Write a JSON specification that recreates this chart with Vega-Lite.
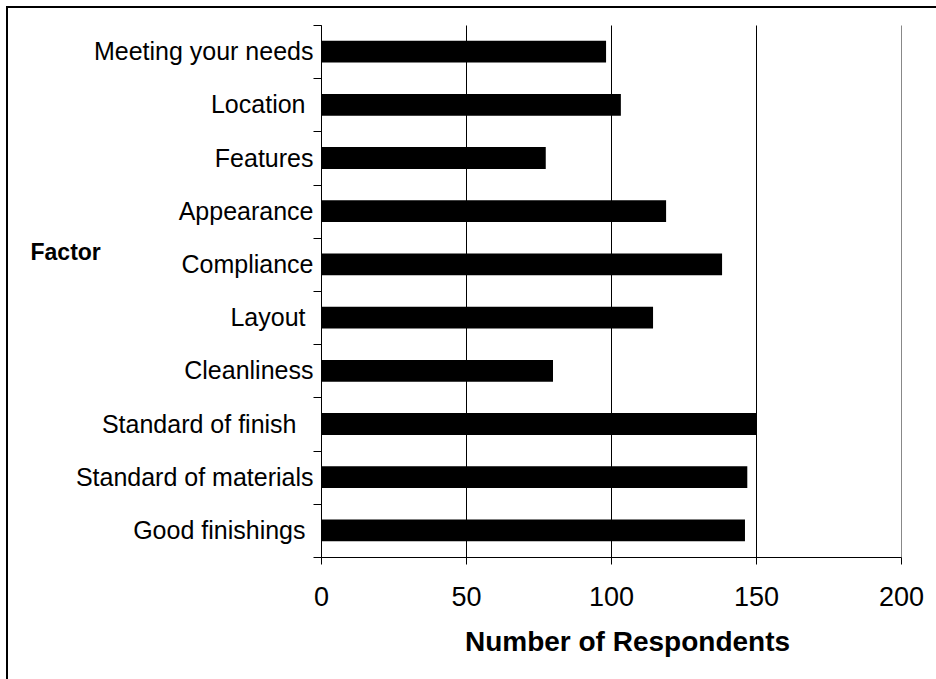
{
  "$schema": "https://vega.github.io/schema/vega-lite/v6.json",
  "autosize": {"type": "none"},
  "padding": {"left": 7, "top": 7, "right": 0, "bottom": 0},
  "width": 929,
  "height": 672,
  "background": "white",
  "config": {
    "view": {"stroke": "black", "strokeWidth": 2, "strokeDash": [929, 1601, 672, 10]},
    "font": "Liberation Sans"
  },
  "data": {
    "values": [
      {"factor": "Meeting your needs", "respondents": 98.3},
      {"factor": "Location", "respondents": 103.4},
      {"factor": "Features", "respondents": 77.5},
      {"factor": "Appearance", "respondents": 119},
      {"factor": "Compliance", "respondents": 138.3},
      {"factor": "Layout", "respondents": 114.5},
      {"factor": "Cleanliness", "respondents": 80},
      {"factor": "Standard of finish", "respondents": 150},
      {"factor": "Standard of materials", "respondents": 147},
      {"factor": "Good finishings", "respondents": 146.2}
    ]
  },
  "mark": {"type": "bar", "color": "black", "height": {"band": 0.41}},
  "encoding": {
    "y": {
      "field": "factor",
      "type": "nominal",
      "sort": null,
      "scale": {"range": [18, 550], "paddingInner": 0, "paddingOuter": 0},
      "axis": {
        "orient": "left",
        "offset": -314,
        "title": "Factor",
        "titleAngle": 0,
        "titleAlign": "left",
        "titleBaseline": "alphabetic",
        "titleX": -291,
        "titleY": 252,
        "titleFont": "Liberation Sans",
        "titleFontSize": 23,
        "titleFontWeight": "bold",
        "titleColor": "black",
        "tickBand": "extent",
        "ticks": true,
        "tickSize": 8,
        "tickColor": "black",
        "tickWidth": 1,
        "domainColor": "black",
        "domainWidth": 1,
        "grid": false,
        "labelFont": "Liberation Sans",
        "labelFontSize": 25,
        "labelColor": "black",
        "labelPadding": {
          "condition": [
            {"test": "datum.label == 'Standard of finish'", "value": 17},
            {"test": "indexof(['Location', 'Layout', 'Good finishings'], datum.label) >= 0", "value": 8}
          ],
          "value": 0
        },
        "labelLimit": 400,
        "labelBaseline": "middle"
      }
    },
    "x": {
      "field": "respondents",
      "type": "quantitative",
      "scale": {"domain": [0, 200], "range": [314, 894], "nice": false, "zero": true},
      "axis": {
        "orient": "top",
        "offset": -550,
        "values": [0, 50, 100, 150, 200],
        "title": "Number of Respondents",
        "titleFont": "Liberation Sans",
        "titleFontSize": 28,
        "titleFontWeight": "bold",
        "titleColor": "black",
        "titleAlign": "center",
        "titleAngle": 0,
        "titleBaseline": "alphabetic",
        "titleX": 620,
        "titleY": 93,
        "grid": true,
        "gridColor": {"condition": {"test": "datum.value == 200", "value": "#888888"}, "value": "black"},
        "gridWidth": 1,
        "gridOpacity": 1,
        "ticks": true,
        "tickSize": -7,
        "tickColor": "black",
        "domainColor": "black",
        "domainWidth": 1,
        "labelFont": "Liberation Sans",
        "labelFontSize": 27,
        "labelColor": "black",
        "labelPadding": -20,
        "labelBaseline": "top",
        "labelFlush": false
      }
    }
  }
}
